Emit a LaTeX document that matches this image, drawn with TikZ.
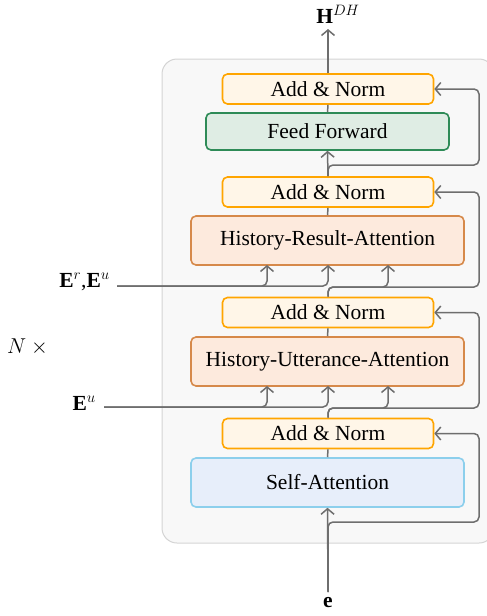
\RequirePackage{fix-cm}
\documentclass[tikz,border=0pt]{standalone}
\usepackage{fontspec}
\setmainfont{Liberation Serif}
\usetikzlibrary{arrows.meta}

\definecolor{anFill}{HTML}{FFF6E8}
\definecolor{anDraw}{HTML}{FFA500}
\definecolor{ffFill}{HTML}{DFEDE4}
\definecolor{ffDraw}{HTML}{2E8B57}
\definecolor{attFill}{HTML}{FDEADD}
\definecolor{attDraw}{HTML}{D6894A}
\definecolor{saFill}{HTML}{E7EEFA}
\definecolor{saDraw}{HTML}{8CCFEC}
\definecolor{wire}{HTML}{6E6E6E}
\definecolor{panelFill}{HTML}{F8F8F8}
\definecolor{panelDraw}{HTML}{D4D4D4}

\tikzset{
  every node/.style={font=\fontsize{21.5}{25}\selectfont},
  block/.style={draw, rounded corners=5pt, line width=1.6pt, inner sep=0pt, align=center},
  addnorm/.style={block, fill=anFill, draw=anDraw, minimum width=211pt, minimum height=30pt},
  ffbox/.style={block, fill=ffFill, draw=ffDraw, minimum width=243pt, minimum height=37pt},
  attbox/.style={block, fill=attFill, draw=attDraw, minimum width=273pt, minimum height=49pt},
  sabox/.style={block, fill=saFill, draw=saDraw, minimum width=273pt, minimum height=49pt},
  wireline/.style={draw=wire, line width=1.5pt, rounded corners=5pt},
  arr/.style={wireline, -{Straight Barb[length=5.5pt,width=13pt,line width=1.5pt]}},
  lbl/.style={inner sep=0pt}
}

\begin{document}
\begin{tikzpicture}[x=1pt,y=-1pt]
\useasboundingbox (0,0) rectangle (487,616);

% stacked decoder layer panel
\draw[fill=panelFill, draw=panelDraw, line width=1pt, rounded corners=15pt]
  (162,59) rectangle (494,543);

% blocks, top to bottom
\node[addnorm] (an1) at (328,89) {Add \& Norm};
\node[ffbox]   (ff)  at (327.5,131.5) {Feed Forward};
\node[addnorm] (an2) at (328,192) {Add \& Norm};
\node[attbox]  (hra) at (327.5,240.5) {History-Result-Attention};
\node[addnorm] (an3) at (328,312.5) {Add \& Norm};
\node[attbox]  (hua) at (327.5,361.5) {History-Utterance-Attention};
\node[addnorm] (an4) at (328,433.5) {Add \& Norm};
\node[sabox]   (sa)  at (327.5,482.5) {Self-Attention};

% labels
\node[lbl] (hout) at (338,14) {$\mathbf{H}^{DH}$};
\node[lbl] (ein)  at (328,603) {$\mathbf{e}$};
\node[lbl, anchor=west] (nx) at (7,347) {$N\times{}$};
\node[lbl, anchor=east] (eru) at (110,282) {$\mathbf{E}^r$,$\mathbf{E}^u$};
\node[lbl, anchor=east] (eu)  at (96,403) {$\mathbf{E}^u$};

\coordinate (top) at (328,29);
\coordinate (bot) at (328,592);
\coordinate (eruL) at (117,286);
\coordinate (euL)  at (104,407);

% output
\draw[arr] (an1.north) -- (top);
\draw[wireline] (ff.north) -- (an1.south);

% feed forward sublayer
\draw[arr] (an2.north) -- (ff.south);
\draw[arr] (an2.north) -- (328,165) -- (479,165) -- (479,89) -- (an1.east);
\draw[wireline] (hra.north) -- (an2.south);

% history-result attention sublayer
\draw[arr] (an3.north) -- (328,287) -- (388,287) -- (388,265);
\draw[arr] (an3.north) -- (328,287) -- (479,287) -- (479,192) -- (an2.east);
\draw[arr] (eruL) -- (328,286) -- (328,265);
\draw[arr] (eruL) -- (267,286) -- (267,265);
\draw[wireline] (hua.north) -- (an3.south);

% history-utterance attention sublayer
\draw[arr] (an4.north) -- (328,408) -- (388,408) -- (388,386);
\draw[arr] (an4.north) -- (328,408) -- (479,408) -- (479,312.5) -- (an3.east);
\draw[arr] (euL) -- (328,407) -- (328,386);
\draw[arr] (euL) -- (267,407) -- (267,386);
\draw[wireline] (sa.north) -- (an4.south);

% self-attention sublayer
\draw[arr] (bot) -- (sa.south);
\draw[arr] (bot) -- (328,522) -- (479,522) -- (479,433.5) -- (an4.east);
\end{tikzpicture}
\end{document}
